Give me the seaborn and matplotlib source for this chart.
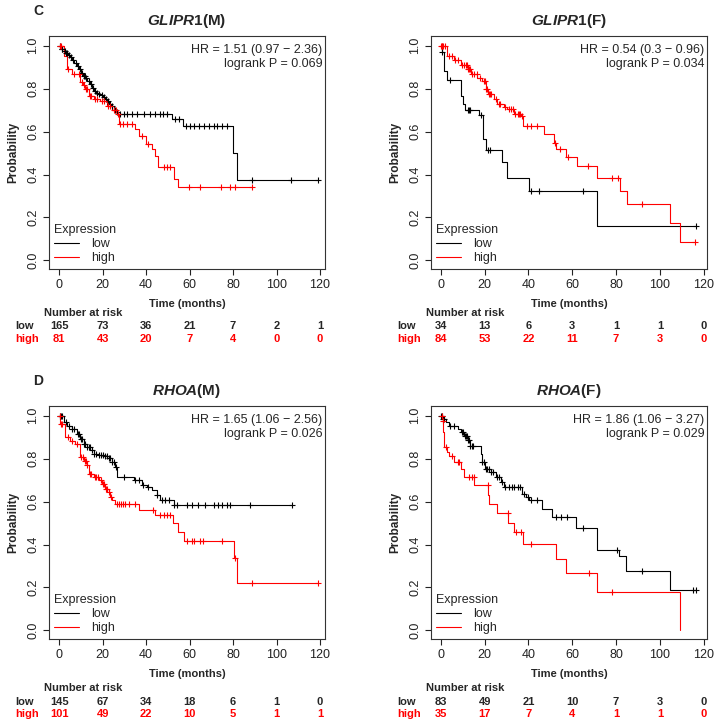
import numpy as np
import matplotlib
matplotlib.use('Agg')
import matplotlib.pyplot as plt
import matplotlib.transforms as mtransforms
from matplotlib.lines import Line2D
import seaborn as sns

sns.set_theme(style='ticks')
plt.rcParams['font.family'] = ['Liberation Sans', 'DejaVu Sans']
plt.rcParams['mathtext.fontset'] = 'custom'
plt.rcParams['mathtext.it'] = 'Liberation Sans:italic:bold'
plt.rcParams['mathtext.rm'] = 'Liberation Sans:bold'
plt.rcParams['mathtext.bf'] = 'Liberation Sans:bold'

# --- GLIPR1 (M) ---
g1m_low_t = [0, 1, 2, 3, 4, 5, 6, 7, 8, 9, 10, 11, 12, 13, 14, 15, 16, 17, 18, 19, 20,
             21, 22, 23, 24, 25, 26, 27, 52, 57, 80, 82]
g1m_low_s = [1.0, .985, .975, .965, .955, .945, .935, .92, .905, .89, .875, .86, .85, .835,
             .82, .805, .79, .78, .775, .77, .76, .75, .74, .73, .72, .70, .69, .68, .66,
             .626, .50, .374]
g1m_low_c = [0.5, 1.2, 1.5, 2.5, 3.2, 3.5, 4.5, 5.5, 6.5, 7.5, 8.5, 9.5, 10.5, 11.5, 11.8,
             12.5, 13.5, 14.5, 15.5, 16.5, 17.5, 18.5, 19.5, 20.5, 21.5, 22.5, 23.5, 24.5,
             25.5, 26.5, 28, 29.6, 31.1, 33.4, 35.7, 38.8, 41.8, 44.1, 46.4, 47.9, 49.4,
             53.5, 55, 58.5, 60.2, 61.8, 64.1, 66.4, 68.7, 71, 72.5, 74.8, 77.1, 88.6,
             106.5, 119.2]
g1m_high_t = [0, 2, 3.5, 6, 9.7, 11, 12, 13.5, 15.8, 18.9, 21.9, 24.2, 26.5, 27.3, 35,
              36.5, 39.8, 42.6, 44.1, 45.4, 52.6, 54.6]
g1m_high_s = [1.0, .95, .89, .87, .83, .815, .80, .765, .75, .74, .72, .70, .68, .634, .61,
              .58, .54, .518, .487, .433, .379, .34]
g1m_high_c = [0.5, 1, 4, 7, 9, 10.5, 11.5, 12.5, 13, 14, 14.5, 16.5, 17.5, 19.5, 20.5,
              22.5, 23.5, 25, 26, 27, 28, 29.5, 31, 33.4, 38, 41, 48, 49.5, 51, 59.5,
              64.8, 74.3, 78.6, 81, 88.9]
g1m_risk_low = [165, 73, 36, 21, 7, 2, 1]
g1m_risk_high = [81, 43, 20, 7, 4, 0, 0]

# --- GLIPR1 (F) ---
g1f_low_t = [0, 0.3, 1.5, 3, 9.1, 9.9, 11.1, 17.5, 19.3, 20.5, 27.8, 30.1, 40.3, 71.4]
g1f_low_s = [1.0, .97, .88, .84, .765, .73, .70, .675, .564, .516, .456, .386, .325, .162]
g1f_low_c = [0.6, 4.3, 12.5, 13, 13.5, 18.2, 21.5, 22.5, 41.2, 44.7, 65, 116.5]
g1f_high_t = [0, 3, 6, 9.1, 12.2, 13.7, 16.7, 19, 20.5, 21.3, 24.3, 25.8, 28.9, 30.4, 33.4,
              36.5, 37.7, 47.1, 51.6, 52.4, 57, 62.3, 71.4, 82, 85, 104.8, 109.4]
g1f_high_s = [1.0, .95, .935, .912, .89, .87, .85, .835, .80, .773, .75, .73, .716, .703,
              .68, .672, .626, .587, .549, .518, .482, .44, .386, .325, .263, .175, .085]
g1f_high_c = [0.2, 0.4, 0.6, 1, 2, 3.5, 5, 6.5, 8, 9.5, 10.5, 11.5, 12, 12.5, 13, 13.5, 14,
              15, 16.5, 18, 19.5, 20, 20.7, 21, 21.8, 22.5, 23, 25, 26.5, 27, 29.5, 31, 32,
              33, 34, 35, 35.5, 36, 37, 39.5, 41, 44, 52, 54.5, 58, 67, 78, 81, 92, 115.8]
g1f_risk_low = [34, 13, 6, 3, 1, 1, 0]
g1f_risk_high = [84, 53, 22, 11, 7, 3, 0]

# --- RHOA (M) ---
rm_low_t = [0, 2, 3.5, 5.8, 8.1, 9.7, 11.2, 12.7, 14.3, 15.8, 18.1, 20.4, 22.7, 24.2, 25.7,
            26.8, 34.2, 38, 40.3, 42.6, 44.9, 46.4, 52.6]
rm_low_s = [1.0, .97, .954, .938, .915, .892, .87, .853, .838, .822, .818, .81, .802, .784,
            .76, .714, .70, .675, .666, .652, .629, .606, .583]
rm_low_c = [0.5, 1, 1.5, 3, 4.5, 6, 7, 8.5, 9, 10, 10.5, 11.5, 12, 13, 13.5, 14, 15, 16, 17,
            18.5, 19, 20, 21, 22, 23, 23.5, 24.5, 25, 26, 29.6, 35, 36.5, 38.5, 41, 45,
            47.5, 48.7, 50.3, 52.6, 54, 58.7, 61, 64, 67, 71, 73, 74.8, 77, 78.6, 87.8,
            107]
rm_high_t = [0, 0.5, 2.8, 5, 7.4, 9.7, 11.2, 12.7, 13.5, 15.8, 18.1, 19.6, 21.1, 22.7, 23.4,
             24.2, 25.7, 36.5, 44.1, 52.3, 54.6, 57.6, 80.2, 82]
rm_high_s = [1.0, .961, .90, .884, .869, .807, .791, .768, .73, .714, .699, .683, .66, .644,
             .621, .606, .59, .56, .536, .498, .459, .416, .335, .223]
rm_high_c = [0.3, 1, 1.5, 4, 6, 8, 10, 11, 12, 12.5, 13, 14, 14.5, 16.5, 17, 18, 19, 20,
             20.5, 21.5, 22, 23, 24, 26.5, 27.5, 28.5, 29.5, 30.5, 32, 35, 43, 46.5, 48,
             49.5, 51, 59, 61, 62, 65, 66, 75, 81, 88.6, 119.2]
rm_risk_low = [145, 67, 34, 18, 6, 1, 0]
rm_risk_high = [101, 49, 22, 10, 5, 1, 1]

# --- RHOA (F) ---
rf_low_t = [0, 0.8, 2.3, 3.8, 7.6, 9.1, 10.6, 12.2, 13.4, 18.2, 19, 20, 22.8, 25, 27.3,
            28.9, 37.2, 38.7, 40.3, 46.3, 50.9, 61.5, 71.4, 81.5, 84.3, 104.8]
rf_low_s = [1.0, .985, .97, .95, .938, .923, .907, .889, .858, .822, .784, .753, .737, .714,
            .691, .668, .637, .622, .606, .567, .529, .475, .374, .348, .277, .189]
rf_low_c = [0.2, 0.5, 1, 1.5, 4, 6, 9.5, 10, 11, 11.5, 12, 12.5, 13, 13.5, 14, 14.5, 19,
            19.5, 20.5, 21, 22, 23, 24, 25.5, 26.5, 28, 29.5, 31, 32.5, 33.5, 35, 36, 38,
            40, 41, 44, 52.5, 55, 57.5, 65, 80.5, 92, 115, 116.5]
rf_high_t = [0, 0.8, 1.2, 1.5, 2.7, 3.8, 5.8, 9.1, 10.6, 15.2, 21.6, 22, 25.5, 30.8, 33.4,
             37.7, 52.4, 57, 71.1, 109.4]
rf_high_s = [1.0, .977, .923, .853, .83, .81, .784, .753, .714, .675, .632, .59, .549, .502,
             .459, .402, .332, .266, .178, 0.0]
rf_high_c = [0.3, 0.8, 2.3, 4.9, 7.6, 8.4, 13, 14, 15, 21.3, 30.5, 34.2, 36.5, 41, 67.6, 78]
rf_risk_low = [83, 49, 21, 10, 7, 3, 0]
rf_risk_high = [35, 17, 7, 4, 1, 1, 0]

risk_times = [0, 20, 40, 60, 80, 100, 120]

W, H = 727, 726
fig = plt.figure(figsize=(W / 100, H / 100), dpi=100)


def surv_at(t, s, c):
    idx = np.searchsorted(t, c, side='right') - 1
    return np.asarray(s)[idx]


def curve(ax, t, s, c, color):
    t = list(t)
    s = list(s)
    if max(c) > t[-1]:
        t.append(max(c))
        s.append(s[-1])
    sns.lineplot(x=t, y=s, drawstyle='steps-post', color=color, lw=0.8,
                 estimator=None, sort=False, ax=ax, legend=False)
    sns.scatterplot(x=c, y=surv_at(t, s, c), marker='+', color=color, s=18,
                    linewidth=0.8, ax=ax, legend=False, zorder=3)


def panel(rect, letter, gene, sex, hr, pval, xlim, low, high, risk_low, risk_high, rows):
    x0, y0, x1, y1 = rect
    ax = fig.add_axes([x0 / W, 1 - y1 / H, (x1 - x0) / W, (y1 - y0) / H])
    curve(ax, *low, 'black')
    curve(ax, *high, 'red')
    ax.set_xlim(*xlim)
    ax.set_ylim(-0.04, 1.045)
    ax.set_xticks(range(0, 121, 20))
    ax.set_yticks([0, 0.2, 0.4, 0.6, 0.8, 1.0])
    ax.set_yticklabels(['0.0', '0.2', '0.4', '0.6', '0.8', '1.0'], rotation=90, va='center')
    ax.tick_params(direction='out', length=4, width=0.8, labelsize=9, pad=3,
                   colors='#222222')
    for sp in ax.spines.values():
        sp.set_linewidth(0.8)
        sp.set_color('#333333')
    ax.set_xlabel('Time (months)', fontweight='bold', fontsize=8, labelpad=6)
    ax.set_ylabel('Probability', fontweight='bold', fontsize=8.5, labelpad=6)
    ax.set_title(r'$\mathit{' + gene + '}$(' + sex + ')', fontweight='bold',
                 fontsize=11, pad=8)
    ax.text(0.99, 0.965, hr + '\nlogrank P = ' + pval, transform=ax.transAxes,
            ha='right', va='top', fontsize=9, linespacing=1.25)
    handles = [Line2D([], [], color='black', lw=0.8), Line2D([], [], color='red', lw=0.8)]
    ax.legend(handles, ['low', 'high'], title='Expression', loc='lower left',
              frameon=False, fontsize=9, title_fontsize=9, alignment='left',
              handlelength=2.0, handletextpad=1.0, labelspacing=0.15,
              borderaxespad=0.1, borderpad=0.3)
    if letter:
        fig.text(38 / W, 1 - (y0 - 25) / H, letter, fontweight='bold', fontsize=10,
                 ha='center', va='center')
    # number at risk table
    tr = mtransforms.blended_transform_factory(ax.transData, fig.transFigure)
    nar, rl, rh = rows
    ax.text(-7, 1 - (y1 + nar) / H, 'Number at risk', transform=tr, ha='left',
            va='center', fontsize=8, fontweight='bold', clip_on=False)
    ax.text(-20, 1 - (y1 + rl) / H, 'low', transform=tr, ha='left', va='center',
            fontsize=8, fontweight='bold', clip_on=False)
    ax.text(-20, 1 - (y1 + rh) / H, 'high', transform=tr, ha='left', va='center',
            fontsize=8, fontweight='bold', color='red', clip_on=False)
    for tt, a, b in zip(risk_times, risk_low, risk_high):
        ax.text(tt, 1 - (y1 + rl) / H, str(a), transform=tr, ha='center', va='center',
                fontsize=8, fontweight='bold', clip_on=False)
        ax.text(tt, 1 - (y1 + rh) / H, str(b), transform=tr, ha='center', va='center',
                fontsize=8, fontweight='bold', color='red', clip_on=False)
    return ax


top_rows = (44, 57, 70)
bot_rows = (49, 63, 75)

panel((49, 36, 325, 269), 'C', 'GLIPR1', 'M', 'HR = 1.51 (0.97 \u2212 2.36)', '0.069',
      (-4.7, 122.3), (g1m_low_t, g1m_low_s, g1m_low_c),
      (g1m_high_t, g1m_high_s, g1m_high_c), g1m_risk_low, g1m_risk_high, top_rows)
panel((431, 36, 707, 269), None, 'GLIPR1', 'F', 'HR = 0.54 (0.3 \u2212 0.96)', '0.034',
      (-4.5, 121.5), (g1f_low_t, g1f_low_s, g1f_low_c),
      (g1f_high_t, g1f_high_s, g1f_high_c), g1f_risk_low, g1f_risk_high, top_rows)
panel((49, 406, 325, 639), 'D', 'RHOA', 'M', 'HR = 1.65 (1.06 \u2212 2.56)', '0.026',
      (-4.7, 122.3), (rm_low_t, rm_low_s, rm_low_c),
      (rm_high_t, rm_high_s, rm_high_c), rm_risk_low, rm_risk_high, bot_rows)
panel((431, 406, 707, 639), None, 'RHOA', 'F', 'HR = 1.86 (1.06 \u2212 3.27)', '0.029',
      (-4.5, 121.5), (rf_low_t, rf_low_s, rf_low_c),
      (rf_high_t, rf_high_s, rf_high_c), rf_risk_low, rf_risk_high, bot_rows)

fig.savefig('out.png', dpi=100, facecolor='white')
